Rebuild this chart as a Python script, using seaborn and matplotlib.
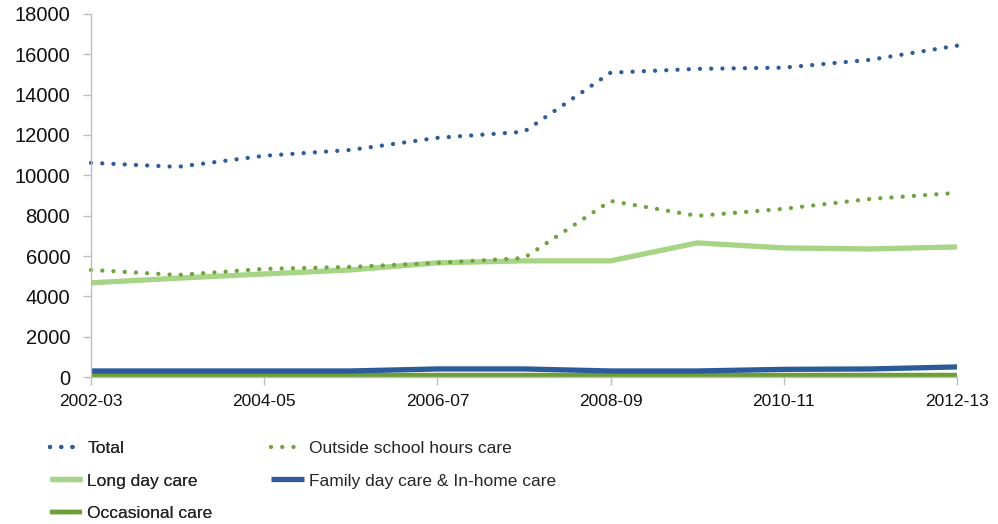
"""Child care places by service type, 2002-03 to 2012-13."""

import matplotlib

matplotlib.use("Agg")
import matplotlib.pyplot as plt
import pandas as pd
import seaborn as sns

years = ["2002-03", "2003-04", "2004-05", "2005-06", "2006-07", "2007-08",
         "2008-09", "2009-10", "2010-11", "2011-12", "2012-13"]
total = [10620, 10420, 10970, 11260, 11860, 12160, 15090, 15280, 15340, 15730, 16430]
outside_school = [5310, 5060, 5360, 5460, 5660, 5900, 8730, 7990, 8340, 8830, 9130]
long_day = [4670, 4900, 5110, 5310, 5660, 5760, 5760, 6650, 6400, 6350, 6450]
family_day = [300, 300, 300, 300, 400, 400, 300, 300, 380, 400, 500]
occasional = [100, 100, 100, 100, 100, 100, 100, 100, 100, 100, 100]
tick_years = years[::2]

series = {
    "Total": total,
    "Outside school hours care": outside_school,
    "Long day care": long_day,
    "Family day care & In-home care": family_day,
    "Occasional care": occasional,
}
styles = {
    "Total": dict(color="#2C5C9E", lw=3.1, dotted=True),
    "Outside school hours care": dict(color="#6FA33B", lw=3.1, dotted=True),
    "Long day care": dict(color="#A6D585", lw=3.8, dotted=False),
    "Family day care & In-home care": dict(color="#2B5B98", lw=3.8, dotted=False),
    "Occasional care": dict(color="#6C9F36", lw=3.2, dotted=False),
}

records = []
for name, values in series.items():
    for year, value in zip(years, values):
        records.append({"year": year, "places": value, "series": name})
data = pd.DataFrame(records)
data["pos"] = data["year"].map({y: i for i, y in enumerate(years)})

sns.set_theme(style="white")
plt.rcParams["font.family"] = ["Liberation Sans", "DejaVu Sans"]

fig = plt.figure(figsize=(9.98, 5.24), dpi=100)
ax = fig.add_axes([0.0912, 0.2805, 0.8677, 0.6928])

handles = {}
draw_order = ["Occasional care", "Family day care & In-home care", "Long day care",
              "Outside school hours care", "Total"]
for name in draw_order:
    st = styles[name]
    subset = data[data["series"] == name]
    sns.lineplot(data=subset, x="pos", y="places", ax=ax, color=st["color"],
                 linewidth=st["lw"], sort=True, legend=False)
    line = ax.get_lines()[-1]
    line.set_clip_on(False)
    if st["dotted"]:
        line.set_linestyle((0, (0.01, 2.6)))
        line.set_dash_capstyle("round")
    else:
        line.set_solid_capstyle("butt")
        line.set_solid_joinstyle("round")
    handles[name] = line

ax.set_xlim(0, len(years) - 1)
ax.set_ylim(0, 18000)
ax.set_yticks(range(0, 18001, 2000))
ax.set_xticks(range(0, len(years), 2))
ax.set_xticklabels(tick_years, fontsize=12.5)
for label in ax.get_yticklabels():
    label.set_fontsize(14.5)
ax.set_xlabel("")
ax.set_ylabel("")
sns.despine(ax=ax)
for side in ["left", "bottom"]:
    ax.spines[side].set_color("#BFBFBF")
    ax.spines[side].set_linewidth(1.0)
ax.tick_params(axis="both", which="major", direction="out", length=6,
               width=1.0, color="#BFBFBF", labelcolor="#111111")
ax.tick_params(axis="y", pad=9)
ax.tick_params(axis="x", pad=6)
ax.yaxis.set_ticks_position("left")
ax.xaxis.set_ticks_position("bottom")
ax.grid(False)


def add_legend(names, x0):
    return fig.legend([handles[n] for n in names], names, loc="upper left",
                      bbox_to_anchor=(x0, 0.158), frameon=False, borderpad=0,
                      borderaxespad=0, handlelength=1.85, handletextpad=0.3,
                      labelspacing=0.98, prop={"size": 12.5})


leg1 = add_legend(["Total", "Long day care", "Occasional care"], 0.05)
fig.add_artist(leg1)
add_legend(["Outside school hours care", "Family day care & In-home care"], 0.272)

fig.savefig("out.png", dpi=100)
plt.close(fig)
